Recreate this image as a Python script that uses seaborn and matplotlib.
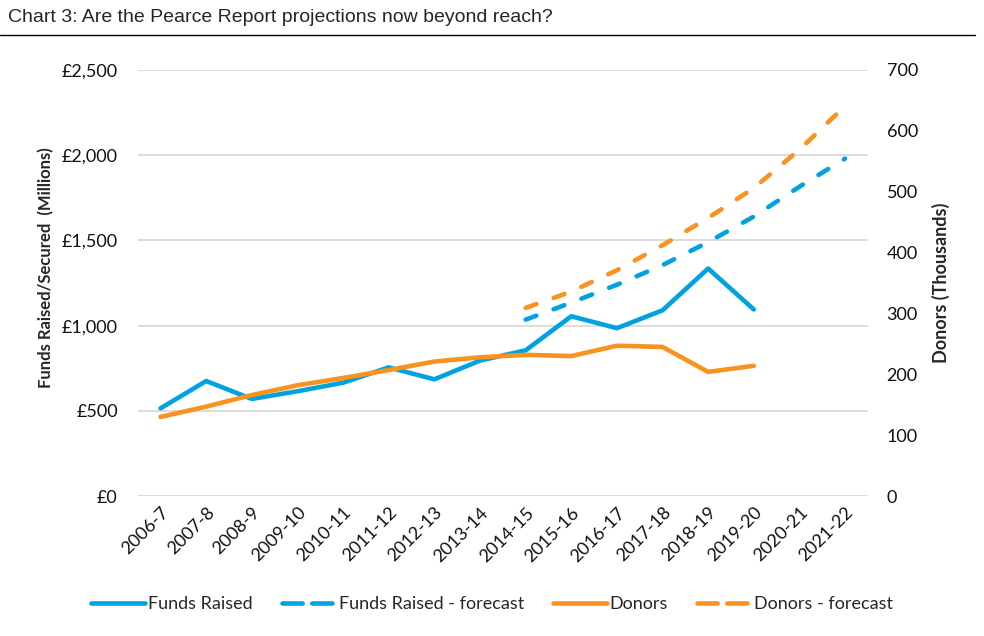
import matplotlib
matplotlib.use("Agg")
import matplotlib.pyplot as plt
from matplotlib.lines import Line2D
import seaborn as sns
import numpy as np
import pandas as pd

years = ["2006-7", "2007-8", "2008-9", "2009-10", "2010-11", "2011-12", "2012-13",
         "2013-14", "2014-15", "2015-16", "2016-17", "2017-18", "2018-19", "2019-20",
         "2020-21", "2021-22"]
funds_raised = [515, 675, 570, 615, 665, 755, 685, 795, 855, 1055, 985, 1090, 1335, 1095,
                np.nan, np.nan]
funds_forecast = [np.nan] * 8 + [1035, 1135, 1240, 1355, 1490, 1640, 1815, 1980]
donors = [130, 147, 166, 182, 194, 207, 221, 228, 232, 230, 247, 245, 204, 214,
          np.nan, np.nan]
donors_forecast = [np.nan] * 8 + [309, 336, 371, 412, 457, 506, 569, 641]

df = pd.DataFrame({"year": years, "pos": range(len(years)),
                   "funds": funds_raised, "funds_fc": funds_forecast,
                   "donors": donors, "donors_fc": donors_forecast})

sns.set_theme(style="white")
plt.rcParams["font.family"] = ["Lato", "DejaVu Sans"]

blue = "#00A3E0"
orange = "#F7931E"
lw = 3.3
dash = (2.5, 4.0)

fig = plt.figure(figsize=(9.84, 6.36), dpi=100)
ax = fig.add_axes([0.140, 0.220, 0.742, 0.670])
ax2 = ax.twinx()

sns.lineplot(data=df, x="pos", y="funds", ax=ax, color=blue, linewidth=lw,
             solid_capstyle="round", legend=False)
sns.lineplot(data=df, x="pos", y="funds_fc", ax=ax, color=blue, linewidth=lw,
             legend=False)
sns.lineplot(data=df, x="pos", y="donors", ax=ax2, color=orange, linewidth=lw,
             solid_capstyle="round", legend=False)
sns.lineplot(data=df, x="pos", y="donors_fc", ax=ax2, color=orange, linewidth=lw,
             legend=False)

# dashed forecast lines
for ln in (ax.lines[1], ax2.lines[1]):
    ln.set_dashes(dash)
    ln.set_dash_capstyle("round")
for ln in ax.lines + ax2.lines:
    ln.set_solid_joinstyle("round")

ax.set_xlim(-0.5, len(years) - 0.5)
ax.set_ylim(0, 2500)
ax2.set_ylim(0, 700)
ax.set_yticks(range(0, 2501, 500))
ax.set_yticklabels([f"£{v:,}" for v in range(0, 2501, 500)])
ax2.set_yticks(range(0, 701, 100))
ax.set_xticks(range(len(years)))
ax.set_xticklabels(years, rotation=45, ha="right", rotation_mode="anchor")

ax.yaxis.grid(True, color="#D9D9D9", linewidth=1.3)
ax.set_axisbelow(True)
for a in (ax, ax2):
    for s in a.spines.values():
        s.set_visible(False)
    a.tick_params(length=0, labelsize=13, colors="#111111")
ax.tick_params(axis="y", pad=14.4)
ax2.tick_params(axis="y", pad=13.5)
ax.tick_params(axis="x", pad=6)

ax.set_xlabel("")
ax.set_ylabel("Funds Raised/Secured  (Millions)", fontsize=12, fontweight="bold")
ax.yaxis.set_label_coords(-0.114, 0.535)
ax2.set_ylabel("Donors (Thousands)", fontsize=13, fontweight="bold", labelpad=10)

fig.text(0.008, 0.972, "Chart 3: Are the Pearce Report projections now beyond reach?",
         fontsize=14, family="Liberation Sans", va="center", ha="left")
fig.add_artist(Line2D([0, 0.991], [0.945, 0.945], color="black", linewidth=1))

# legend swatches (Excel draws the dashed keys with long dashes)
key_dash = (4.4, 2.1)
handles = [
    Line2D([], [], color=blue, linewidth=lw),
    Line2D([], [], color=blue, linewidth=lw, dashes=key_dash, dash_capstyle="round"),
    Line2D([], [], color=orange, linewidth=lw),
    Line2D([], [], color=orange, linewidth=lw, dashes=key_dash, dash_capstyle="round"),
]
labels = ["Funds Raised", "Funds Raised - forecast", "Donors", "Donors - forecast"]
fig.legend(handles, labels, loc="center", bbox_to_anchor=(0.50, 0.05), ncol=4,
           frameon=False, fontsize=13, handlelength=3.0, handletextpad=0.15,
           columnspacing=1.6)

fig.savefig("out.png", dpi=100)
